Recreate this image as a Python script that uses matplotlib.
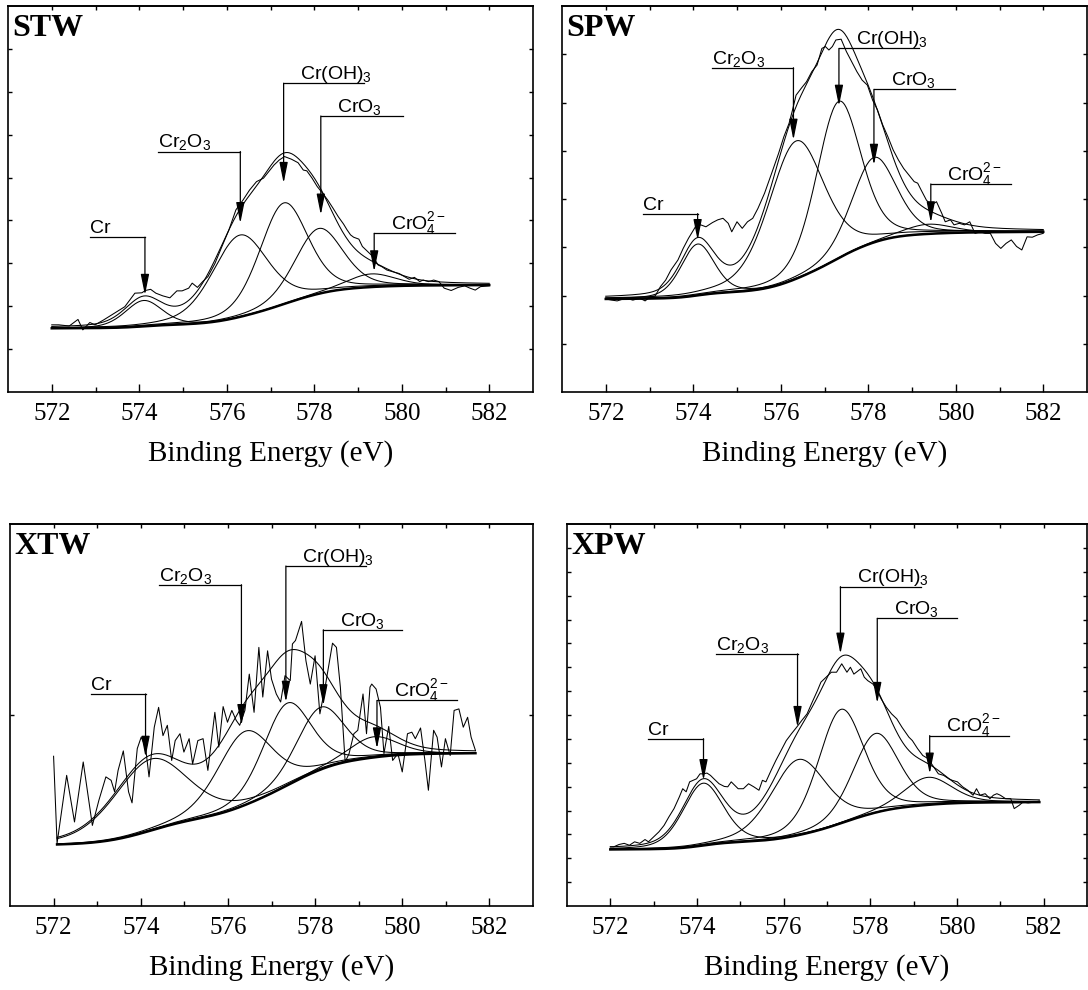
import numpy as np
import matplotlib
matplotlib.use('Agg')
import matplotlib.pyplot as plt

plt.rcParams['font.family'] = 'Liberation Serif'
plt.rcParams['mathtext.fontset'] = 'custom'
plt.rcParams['mathtext.rm'] = 'Liberation Sans'
plt.rcParams['mathtext.it'] = 'Liberation Sans:italic'
plt.rcParams['mathtext.bf'] = 'Liberation Sans:bold'
plt.rcParams['mathtext.default'] = 'regular'

species = ['Cr', 'Cr$_2$O$_3$', 'Cr(OH)$_3$', 'CrO$_3$', 'CrO$_4^{2-}$']

# ---------------- STW ----------------
stw_e = [572.00, 572.16, 572.40, 572.60, 572.71, 572.87, 572.99, 573.19, 573.43, 573.67,
         573.90, 574.06, 574.14, 574.26, 574.38, 574.54, 574.70, 574.86, 574.98, 575.13,
         575.21, 575.33, 575.45, 575.57, 575.73, 575.89, 576.05, 576.21, 576.37, 576.52,
         576.68, 576.84, 576.96, 577.08, 577.20, 577.32, 577.48, 577.63, 577.75, 577.83,
         577.95, 578.07, 578.19, 578.31, 578.43, 578.55, 578.67, 578.75, 578.83, 578.90,
         579.02, 579.10, 579.22, 579.34, 579.46, 579.54, 579.66, 579.78, 579.94, 580.06,
         580.17, 580.29, 580.41, 580.49, 580.61, 580.73, 580.85, 580.97, 581.13, 581.29,
         581.44, 581.56, 581.68, 581.80, 582.00]
stw_i = [17.4, 17.4, 17.1, 18.8, 16.1, 18.0, 17.4, 18.7, 20.4, 22.1,
         25.6, 25.7, 26.3, 26.6, 25.6, 24.9, 24.4, 26.2, 26.2, 26.9,
         28.2, 27.1, 28.6, 29.9, 33.3, 37.7, 42.0, 47.2, 49.7, 52.3,
         54.5, 55.4, 57.1, 58.8, 60.1, 61.0, 60.3, 59.4, 57.5, 57.3,
         55.4, 53.2, 51.5, 49.7, 47.6, 45.4, 43.5, 42.0, 40.7, 40.1,
         39.6, 37.7, 36.4, 35.1, 32.9, 32.5, 31.6, 31.2, 30.7, 29.9,
         29.2, 29.7, 28.6, 29.0, 28.6, 29.0, 28.6, 26.9, 26.3, 27.1,
         27.5, 26.9, 26.4, 27.3, 27.5]
stw_center = [574.1, 576.3, 577.3, 578.1, 579.3]
stw_height = [6.7, 21.2, 26.2, 16.9, 3.4]
stw_fwhm = [1.0, 1.5, 1.3, 1.3, 1.3]
stw_bg = [16.5, 27.7]
stw_range = [572.0, 582.0]
stw_arrow_x = [574.13, 576.31, 577.30, 578.15, 579.37]
stw_line_y = [40.1, 62.3, 80.0, 71.5, 41.1]
stw_tip_y = [25.1, 43.7, 54.1, 45.9, 31.2]
stw_line_end = [572.87, 574.42, 579.14, 580.02, 581.21]

# ---------------- SPW ----------------
spw_e = [572.00, 572.14, 572.26, 572.46, 572.62, 572.78, 572.90, 573.02, 573.13, 573.25,
         573.37, 573.49, 573.65, 573.77, 573.89, 574.05, 574.17, 574.29, 574.44, 574.56,
         574.68, 574.80, 574.88, 575.00, 575.12, 575.24, 575.36, 575.48, 575.63, 575.79,
         575.95, 576.07, 576.19, 576.27, 576.35, 576.47, 576.59, 576.71, 576.83, 576.94,
         577.02, 577.10, 577.18, 577.26, 577.38, 577.50, 577.62, 577.74, 577.86, 577.98,
         578.10, 578.21, 578.33, 578.45, 578.57, 578.69, 578.81, 578.93, 579.05, 579.13,
         579.21, 579.33, 579.44, 579.56, 579.68, 579.76, 579.88, 579.96, 580.08, 580.20,
         580.32, 580.44, 580.56, 580.67, 580.79, 580.91, 581.03, 581.15, 581.27, 581.39,
         581.51, 581.63, 581.75, 581.87, 582.00]
spw_i = [24.1, 23.8, 23.6, 24.3, 23.8, 24.3, 23.6, 24.7, 24.9, 27.3,
         29.0, 31.6, 34.2, 37.2, 39.8, 42.8, 43.3, 42.8, 43.9, 44.6,
         45.0, 43.7, 41.5, 44.1, 42.4, 44.1, 45.0, 47.6, 51.5, 56.6,
         61.8, 66.1, 69.6, 73.1, 76.9, 78.7, 80.4, 83.0, 84.7, 89.0,
         89.5, 88.6, 89.5, 91.2, 91.4, 88.2, 85.6, 83.0, 80.8, 79.5,
         75.6, 73.1, 69.2, 66.1, 62.7, 60.1, 57.9, 56.2, 54.5, 54.1,
         52.3, 49.7, 48.4, 49.3, 46.3, 44.1, 44.6, 43.3, 43.7, 43.3,
         44.1, 41.1, 41.5, 41.1, 41.1, 38.5, 37.2, 38.5, 39.4, 37.7,
         36.8, 40.2, 40.1, 40.7, 41.1]
spw_center = [574.1, 576.35, 577.32, 578.13, 579.37]
spw_height = [13.3, 35.7, 40.6, 22.0, 2.5]
spw_fwhm = [0.9, 1.5, 1.2, 1.2, 1.3]
spw_bg = [24.1, 41.5]
spw_range = [572.0, 582.0]
spw_arrow_x = [574.10, 576.29, 577.33, 578.13, 579.43]
spw_line_y = [46.2, 84.0, 89.0, 78.4, 53.9]
spw_tip_y = [39.3, 65.3, 74.1, 58.8, 43.9]
spw_line_end = [572.86, 574.42, 579.17, 579.98, 581.27]

# ---------------- XTW ----------------
xtw_e = [572.00, 572.08, 572.30, 572.48, 572.68, 572.89, 573.04, 573.20, 573.32, 573.40,
         573.48, 573.60, 573.72, 573.80, 573.92, 574.01, 574.11, 574.19, 574.31, 574.41,
         574.51, 574.61, 574.71, 574.79, 574.90, 574.99, 575.11, 575.19, 575.31, 575.43,
         575.54, 575.70, 575.79, 575.89, 575.99, 576.09, 576.19, 576.27, 576.39, 576.49,
         576.60, 576.71, 576.80, 576.91, 577.00, 577.11, 577.21, 577.31, 577.43, 577.48,
         577.55, 577.69, 577.79, 577.89, 578.00, 578.11, 578.23, 578.40, 578.49, 578.58,
         578.69, 578.78, 578.89, 578.98, 579.10, 579.18, 579.26, 579.30, 579.40, 579.50,
         579.58, 579.69, 579.78, 579.90, 580.00, 580.12, 580.22, 580.30, 580.42, 580.52,
         580.60, 580.72, 580.80, 580.90, 580.99, 581.10, 581.19, 581.30, 581.40, 581.50,
         581.58, 581.68]
xtw_i = [39.2, 16.4, 34.2, 22.0, 37.7, 21.1, 27.7, 33.8, 32.9, 29.9,
         35.5, 40.6, 29.9, 27.0, 41.2, 44.2, 41.6, 33.8, 46.8, 52.0,
         44.6, 47.3, 38.1, 43.3, 45.1, 40.3, 43.8, 37.2, 43.3, 43.8,
         35.5, 50.7, 41.6, 52.2, 48.1, 51.2, 48.6, 47.3, 51.2, 60.7,
         50.7, 67.7, 54.7, 66.8, 59.4, 55.5, 53.4, 60.3, 59.0, 68.6,
         69.5, 74.5, 64.2, 58.1, 65.5, 50.3, 57.3, 68.8, 67.7, 57.3,
         37.7, 39.9, 45.1, 46.0, 55.5, 45.1, 57.3, 58.1, 56.8, 52.0,
         39.9, 47.0, 38.1, 39.9, 35.1, 45.1, 45.5, 43.8, 46.6, 38.1,
         30.3, 46.0, 44.2, 36.4, 43.8, 39.4, 51.2, 51.6, 46.8, 49.4,
         44.2, 40.7]
xtw_center = [574.23, 576.39, 577.35, 578.12, 579.34]
xtw_height = [18.7, 19.3, 21.5, 16.3, 5.4]
xtw_fwhm = [2.0, 1.5, 1.3, 1.3, 1.3]
xtw_bg = [16.1, 40.0]
xtw_range = [572.08, 581.68]
xtw_arrow_x = [574.11, 576.31, 577.33, 578.19, 579.42]
xtw_line_y = [55.5, 84.1, 89.0, 72.3, 53.8]
xtw_tip_y = [39.0, 47.3, 53.4, 52.5, 41.2]
xtw_line_end = [572.85, 574.42, 579.16, 580.00, 581.26]

# ---------------- XPW ----------------
xpw_e = [572.00, 572.08, 572.20, 572.32, 572.44, 572.56, 572.68, 572.80, 572.88, 573.00,
         573.12, 573.24, 573.35, 573.47, 573.59, 573.67, 573.75, 573.83, 573.91, 573.99,
         574.07, 574.15, 574.23, 574.31, 574.39, 574.51, 574.63, 574.71, 574.79, 574.87,
         574.95, 575.07, 575.19, 575.31, 575.43, 575.51, 575.59, 575.71, 575.82, 575.94,
         576.06, 576.18, 576.30, 576.42, 576.54, 576.66, 576.78, 576.86, 576.98, 577.10,
         577.22, 577.34, 577.46, 577.54, 577.62, 577.70, 577.78, 577.86, 577.94, 578.06,
         578.14, 578.25, 578.37, 578.49, 578.61, 578.73, 578.81, 578.89, 578.97, 579.09,
         579.21, 579.33, 579.45, 579.57, 579.69, 579.81, 579.89, 580.01, 580.13, 580.25,
         580.37, 580.45, 580.53, 580.65, 580.76, 580.84, 580.92, 581.00, 581.12, 581.24,
         581.32, 581.44, 581.52, 581.64, 581.80, 581.90]
xpw_i = [15.5, 15.5, 16.1, 16.4, 15.9, 16.8, 16.4, 17.4, 16.8, 18.1,
         19.4, 21.1, 23.3, 25.5, 28.5, 30.7, 29.9, 32.5, 32.9, 33.3,
         34.6, 34.6, 34.8, 34.2, 33.3, 32.0, 31.3, 31.2, 32.5, 31.6,
         30.7, 30.7, 32.0, 31.2, 30.3, 32.9, 32.5, 35.5, 38.1, 40.7,
         43.3, 45.1, 46.8, 48.6, 50.3, 53.4, 56.4, 58.6, 59.9, 61.2,
         61.2, 63.4, 61.2, 62.5, 60.7, 61.4, 62.1, 59.9, 59.0, 58.1,
         56.8, 54.2, 52.0, 50.3, 49.0, 46.8, 45.5, 44.2, 43.3, 41.2,
         39.4, 38.6, 36.6, 34.6, 34.2, 33.3, 32.9, 32.5, 31.2, 30.3,
         29.0, 30.7, 29.0, 29.4, 28.1, 29.0, 29.4, 29.0, 28.1, 28.1,
         25.5, 26.4, 27.2, 27.0, 27.2, 27.5]
xpw_center = [574.14, 576.34, 577.32, 578.12, 579.33]
xpw_height = [16.3, 19.8, 29.8, 20.7, 7.2]
xpw_fwhm = [1.1, 1.5, 1.25, 1.25, 1.3]
xpw_bg = [14.8, 27.2]
xpw_range = [572.0, 581.9]
xpw_arrow_x = [574.15, 576.32, 577.31, 578.16, 579.37]
xpw_line_y = [43.8, 66.0, 83.6, 75.3, 44.6]
xpw_tip_y = [32.9, 46.8, 66.0, 53.1, 34.6]
xpw_line_end = [572.88, 574.43, 579.16, 580.01, 581.20]


def pseudo_voigt(x, c, h, w, eta=0.3):
    g = np.exp(-4 * np.log(2) * ((x - c) / w) ** 2)
    l = 1.0 / (1 + 4 * ((x - c) / w) ** 2)
    return h * (eta * l + (1 - eta) * g)


def draw_panel(ax, name, e, inten, center, height, fwhm, bg_ends, e_range,
               arrow_x, line_y, tip_y, line_end, n_yticks):
    x = np.linspace(e_range[0], e_range[1], 400)
    peaks = [pseudo_voigt(x, c, h, w) for c, h, w in zip(center, height, fwhm)]
    total = np.sum(peaks, axis=0)
    # Shirley type background
    frac = np.cumsum(total) / np.sum(total)
    bg = bg_ends[0] + (bg_ends[1] - bg_ends[0]) * frac

    for pk in peaks:
        ax.plot(x, bg + pk, color='k', lw=0.75)
    ax.plot(x, bg + total, color='k', lw=0.75)
    ax.plot(x, bg, color='k', lw=1.8)
    ax.plot(e, inten, color='k', lw=0.75)

    # species markers
    for k in range(5):
        ax.plot([arrow_x[k], line_end[k]], [line_y[k], line_y[k]], color='k', lw=0.9)
        ax.annotate('', xy=(arrow_x[k], tip_y[k]), xytext=(arrow_x[k], line_y[k]),
                    arrowprops=dict(arrowstyle='-|>,head_length=0.9,head_width=0.18',
                                    color='k', lw=0.9, shrinkA=0, shrinkB=0,
                                    mutation_scale=14))
        if k < 2:
            tx = line_end[k]
        else:
            tx = arrow_x[k] + 0.38
        ax.annotate(species[k], xy=(tx, line_y[k]), xytext=(0, 3),
                    textcoords='offset points', ha='left', va='baseline',
                    fontsize=14, family='Liberation Sans')

    ax.text(0.008, 0.978, name, transform=ax.transAxes, ha='left', va='top',
            fontsize=23, fontweight='bold')

    ax.set_xlim(571, 583)
    ax.set_ylim(0, 100)
    ax.set_xticks(np.arange(572, 583, 2))
    ax.set_xticks(np.arange(573, 583, 2), minor=True)
    ax.set_yticks(np.linspace(0, 100, n_yticks + 1)[1:-1])
    ax.tick_params(axis='x', which='major', direction='in', length=6, width=1,
                   labelsize=18, pad=8)
    ax.tick_params(axis='x', which='minor', direction='in', length=3.5, width=1)
    ax.tick_params(axis='y', direction='in', length=3, width=1, left=True,
                   right=True, labelleft=False)
    top = ax.secondary_xaxis('top')
    top.set_xticks(np.arange(572, 583, 1))
    top.tick_params(direction='in', length=3, width=1, labeltop=False)
    top.spines['top'].set_linewidth(1.2)
    for s in ax.spines.values():
        s.set_linewidth(1.2)
    ax.set_xlabel('Binding Energy (eV)', fontsize=21, labelpad=11)


fig = plt.figure(figsize=(10.88, 9.9), dpi=100)
W, H = 1088.0, 990.0
ax1 = fig.add_axes([8 / W, 1 - 392 / H, 525 / W, 386 / H])
ax2 = fig.add_axes([562 / W, 1 - 392 / H, 525 / W, 386 / H])
ax3 = fig.add_axes([10 / W, 1 - 906 / H, 523 / W, 382 / H])
ax4 = fig.add_axes([567 / W, 1 - 906 / H, 520 / W, 382 / H])

draw_panel(ax1, 'STW', stw_e, stw_i, stw_center, stw_height, stw_fwhm, stw_bg,
           stw_range, stw_arrow_x, stw_line_y, stw_tip_y, stw_line_end, 9)
draw_panel(ax2, 'SPW', spw_e, spw_i, spw_center, spw_height, spw_fwhm, spw_bg,
           spw_range, spw_arrow_x, spw_line_y, spw_tip_y, spw_line_end, 8)
draw_panel(ax3, 'XTW', xtw_e, xtw_i, xtw_center, xtw_height, xtw_fwhm, xtw_bg,
           xtw_range, xtw_arrow_x, xtw_line_y, xtw_tip_y, xtw_line_end, 2)
draw_panel(ax4, 'XPW', xpw_e, xpw_i, xpw_center, xpw_height, xpw_fwhm, xpw_bg,
           xpw_range, xpw_arrow_x, xpw_line_y, xpw_tip_y, xpw_line_end, 16)

fig.savefig('out.png', dpi=100)
